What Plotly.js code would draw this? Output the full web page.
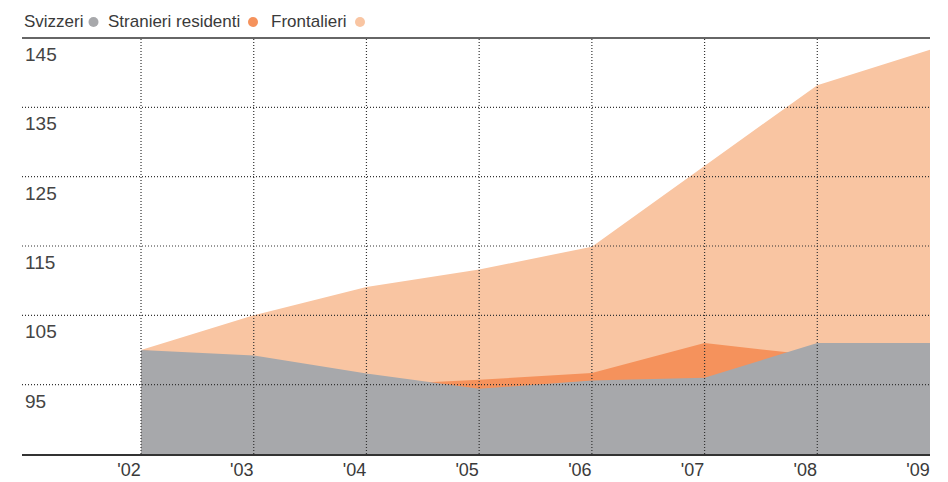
<!DOCTYPE html>
<html>
<head>
<meta charset="utf-8">
<script src="https://cdn.plot.ly/plotly-3.0.1.min.js"></script>
<style>
html,body{margin:0;padding:0;background:#fff;}
#chart{width:948px;height:482px;}
</style>
</head>
<body>
<div id="chart"></div>
<script>
// ---- data ----
const years = [2002, 2003, 2004, 2005, 2006, 2007, 2008, 2009];
const yearLabels = ["'02", "'03", "'04", "'05", "'06", "'07", "'08", "'09"];
const svizzeri = [100, 99.2, 96.6, 94.4, 95.6, 96.0, 101.0, 101.0];
const stranieriResidenti = [100, 98.3, 94.9, 95.7, 96.7, 101.0, 99.2, 99.5];
const frontalieri = [100, 105.0, 109.1, 111.6, 114.9, 126.6, 138.2, 143.3];
const yTickVals = [145, 135, 125, 115, 105, 95];
const yTickText = ["145", "135", "125", "115", "105", "95"];
const gridYears = [2002, 2003, 2004, 2005, 2006, 2007, 2008];
const gridVals = [135, 125, 115, 105, 95];
const seriesNames = ['Svizzeri', 'Stranieri residenti', 'Frontalieri'];

const cGrey = '#a7a8ab', cOrange = '#f5925c', cPeach = '#f9c5a2';
const seriesColors = [cGrey, cOrange, cPeach];
const txt = '#3a3a3a';

const traces = [
  {x: years, y: frontalieri, name: 'Frontalieri', type: 'scatter', mode: 'lines',
   line: {width: 0, color: cPeach}, fill: 'tozeroy', fillcolor: cPeach, hoverinfo: 'skip'},
  {x: years, y: stranieriResidenti, name: 'Stranieri residenti', type: 'scatter', mode: 'lines',
   line: {width: 0, color: cOrange}, fill: 'tozeroy', fillcolor: cOrange, hoverinfo: 'skip'},
  {x: years, y: svizzeri, name: 'Svizzeri', type: 'scatter', mode: 'lines',
   line: {width: 0, color: cGrey}, fill: 'tozeroy', fillcolor: cGrey, hoverinfo: 'skip'}
];

const W = 948, H = 482, M = {l: 22, r: 18, t: 38, b: 28};
const pw = W - M.l - M.r, ph = H - M.t - M.b;
const px2x = p => (p - M.l) / pw;
const py2y = p => 1 + (M.t - p) / ph;

const dotDash = '1px,2px';
const shapes = [];
gridVals.forEach(v => shapes.push({type: 'line', xref: 'paper', yref: 'y', x0: 0, x1: 1, y0: v, y1: v,
  layer: 'above', line: {color: '#333', width: 1.2, dash: dotDash}}));
gridYears.forEach(v => shapes.push({type: 'line', xref: 'x', yref: 'paper', x0: v, x1: v, y0: 0, y1: 1,
  layer: 'above', line: {color: '#333', width: 1.2, dash: dotDash}}));
shapes.push({type: 'line', xref: 'paper', yref: 'paper', x0: 0, x1: 1, y0: 1, y1: 1,
  layer: 'above', line: {color: '#333', width: 1.5}});

// legend: text followed by coloured dot
const legTextX = [23, 107, 270];
const legDotX = [93.5, 253, 360];
const annotations = [];
seriesNames.forEach((n, i) => {
  annotations.push({xref: 'paper', yref: 'paper', x: px2x(legTextX[i]), y: py2y(21), xanchor: 'left', yanchor: 'middle',
    showarrow: false, text: n, borderpad: 0, font: {size: 17, color: txt}});
  shapes.push({type: 'circle', xref: 'paper', yref: 'paper', xsizemode: 'pixel', ysizemode: 'pixel',
    xanchor: px2x(legDotX[i]), yanchor: py2y(22), x0: -5, x1: 5, y0: -5, y1: 5,
    fillcolor: seriesColors[i], line: {width: 0}});
});

const layout = {
  width: W, height: H,
  margin: M,
  paper_bgcolor: '#fff', plot_bgcolor: '#fff',
  showlegend: false,
  font: {family: '"Liberation Sans", Arial, sans-serif', size: 19, color: txt},
  xaxis: {range: [2000.944, 2009], tickvals: years, ticktext: yearLabels,
    tickfont: {size: 18, color: txt},
    showgrid: false, zeroline: false, showline: true, linecolor: '#333', linewidth: 1.5,
    ticks: '', ticklabelshift: -12, ticklabelstandoff: -1, layer: 'above traces', fixedrange: true},
  yaxis: {range: [85, 145], tickvals: yTickVals, ticktext: yTickText,
    showgrid: false, zeroline: false, showline: false, ticks: '',
    ticklabelposition: 'inside bottom', ticklabelshift: 3, fixedrange: true},
  shapes: shapes,
  annotations: annotations
};

Plotly.newPlot('chart', traces, layout, {displayModeBar: false, staticPlot: true});
</script>
</body>
</html>
